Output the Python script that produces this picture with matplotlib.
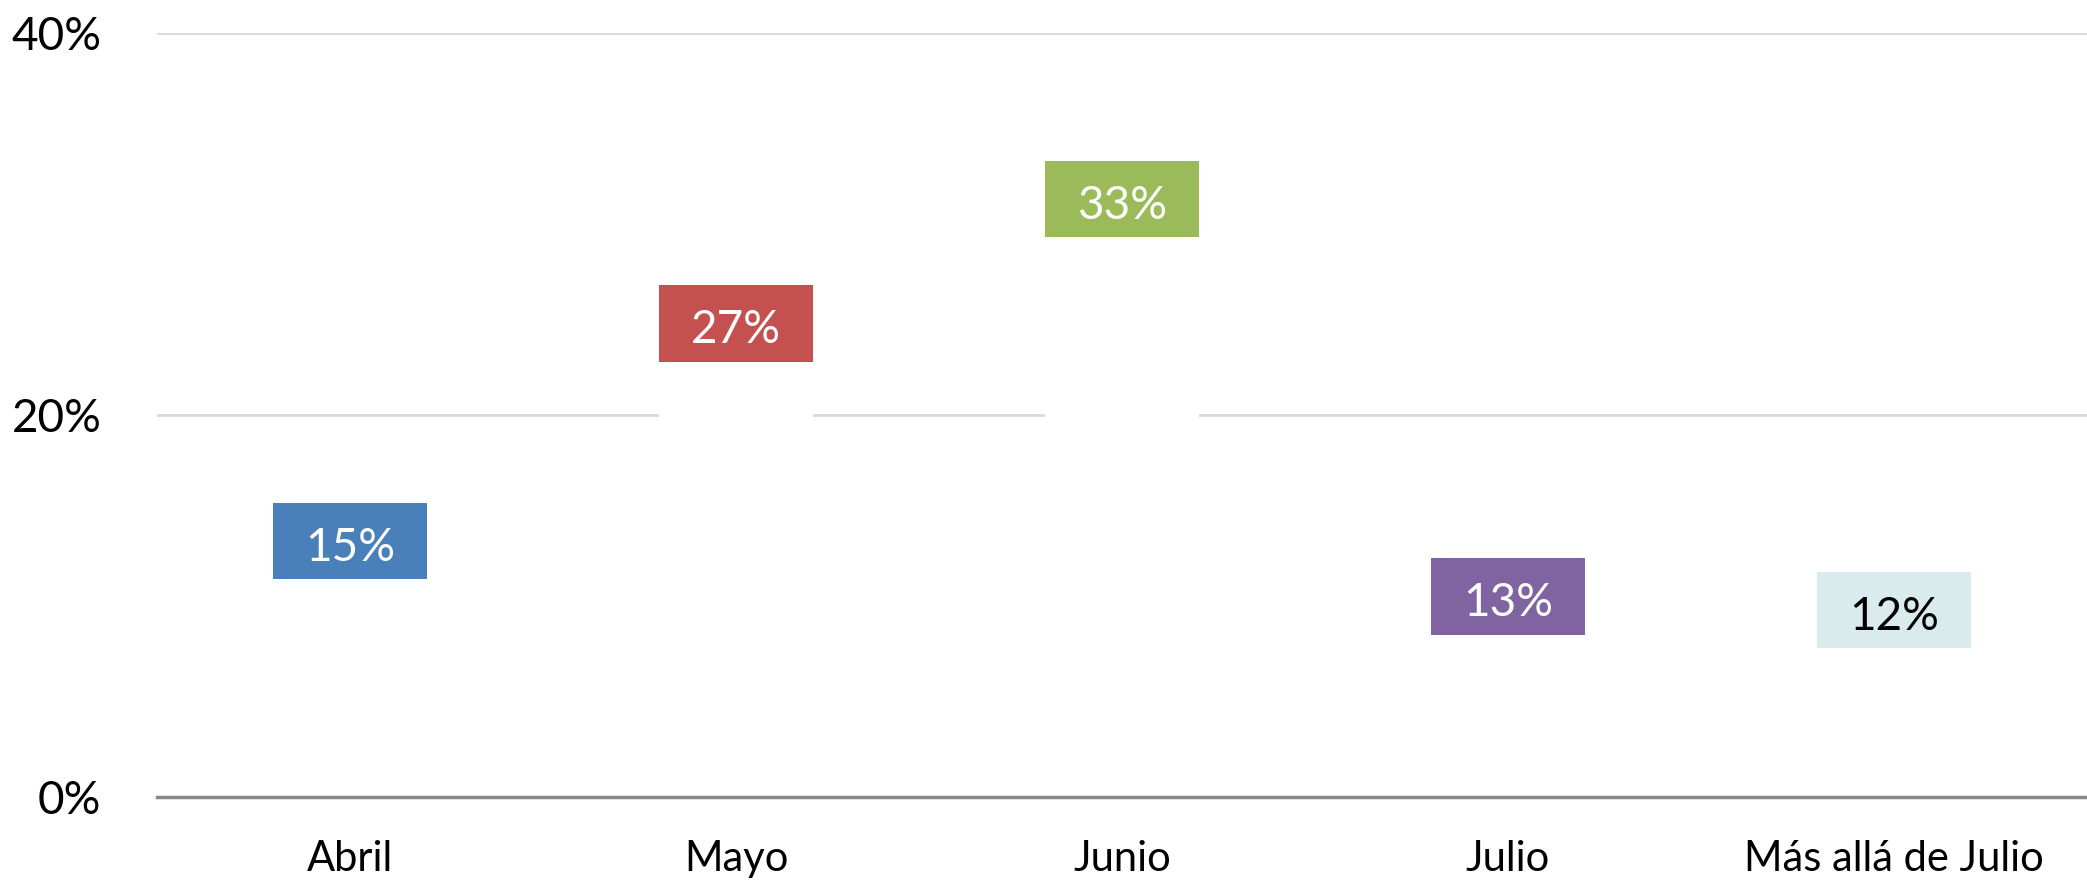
import matplotlib.pyplot as plt

categories = ["Abril", "Mayo", "Junio", "Julio", "Más allá de Julio"]
values = [15.4, 26.8, 33.3, 12.5, 11.8]
labels = ["15%", "27%", "33%", "13%", "12%"]
colors = ["#4a80b9", "#c4514f", "#9bbb5a", "#8064a2", "#daebed"]
text_colors = ["white", "white", "white", "white", "black"]

plt.rcParams["font.family"] = ["Lato", "DejaVu Sans"]

fig = plt.figure(figsize=(20.87, 8.8), dpi=100)
ax = fig.add_axes([0.0752, 0.0943, 0.9248, 0.8682])

x = range(len(categories))
box_h = 4
width = 0.4

# white columns hide the gridlines behind each marker
ax.bar(x, values, width=width, color="white", zorder=2)
ax.bar(x, [box_h] * len(values), bottom=[v - box_h for v in values],
       width=width, color=colors, zorder=3)
for i, (v, lab, tc) in enumerate(zip(values, labels, text_colors)):
    ax.text(i, v - box_h / 2 - 0.35, lab, ha="center", va="center",
            color=tc, fontsize=33, zorder=4)

ax.set_xlim(-0.5, len(categories) - 0.5)
ax.set_ylim(0, 40)
ax.set_yticks([0, 20, 40])
ax.set_yticklabels(["0%", "20%", "40%"])
ax.set_xticks(list(x))
ax.set_xticklabels(categories)
ax.tick_params(axis="y", length=0, pad=40, labelsize=33)
ax.tick_params(axis="x", length=0, pad=31, labelsize=30)

ax.grid(True, axis="y", color="#d9d9d9", linewidth=2, zorder=0)
ax.set_axisbelow(True)
ax.axhline(0, color="#888888", linewidth=2.5, zorder=5, clip_on=False)
for s in ax.spines.values():
    s.set_visible(False)

fig.savefig("out.png", dpi=100)
